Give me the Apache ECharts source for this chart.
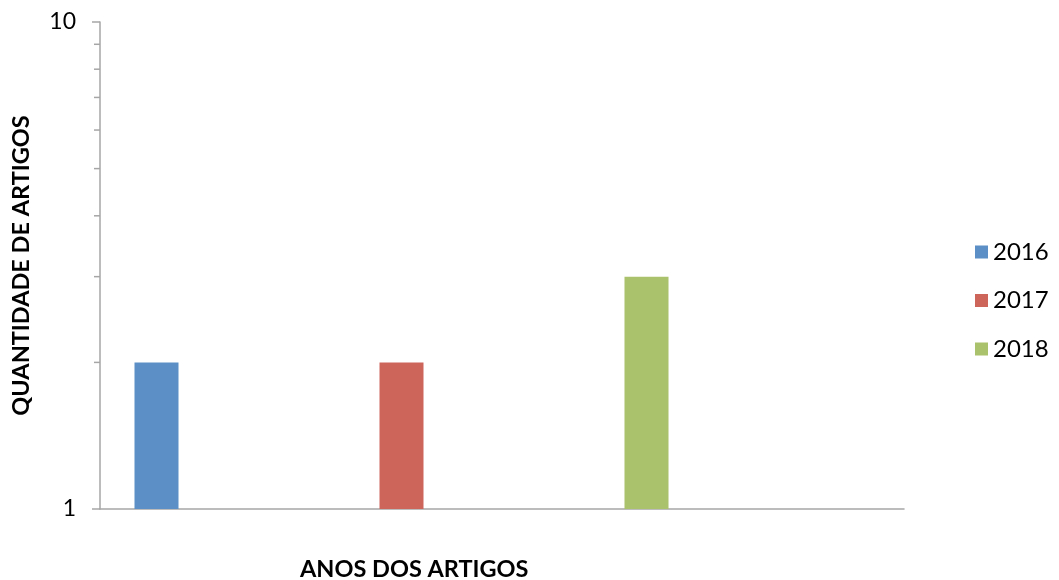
<!DOCTYPE html>
<html>
<head>
<meta charset="utf-8">
<script src="https://cdn.jsdelivr.net/npm/echarts@6/dist/echarts.min.js"></script>
<style>
  html, body { margin: 0; padding: 0; background: #ffffff; }
  #chart { width: 1059px; height: 580px; }
</style>
</head>
<body>
<div id="chart"></div>
<script>
// Category slots along the x axis (the fourth slot is left empty)
const categories = ['2016', '2017', '2018', ''];
// One series per year, each holding its article count
const years = ['2016', '2017', '2018'];
const counts = [2, 2, 3];
const colors = ['#5b8fc6', '#cd655b', '#aac26b'];
// Minor tick values on the logarithmic y axis
const minorTicks = [2, 3, 4, 5, 6, 7, 8, 9];

const FONT = 'Lato';

const barSeries = years.map((year, i) => ({
  name: year,
  type: 'bar',
  barWidth: 44,
  barGap: '0%',
  itemStyle: { color: colors[i] },
  data: categories.map((c, j) => (j === i ? counts[i] : null))
}));

const minorTickSeries = {
  type: 'custom',
  silent: true,
  clip: false,
  z: 5,
  data: minorTicks.map(v => [0, v]),
  renderItem: function (params, api) {
    const y = api.coord([0, api.value(1)])[1];
    const x0 = params.coordSys.x;
    return {
      type: 'line',
      shape: { x1: x0 - 6, y1: y, x2: x0, y2: y },
      style: { stroke: '#a6a6a6', lineWidth: 1.5 }
    };
  }
};

const chart = echarts.init(document.getElementById('chart'), null, { renderer: 'canvas' });
chart.setOption({
  animation: false,
  backgroundColor: '#ffffff',
  textStyle: { fontFamily: FONT },
  grid: { left: 100, right: 155, top: 22, bottom: 71 },
  title: {
    text: 'ANOS DOS ARTIGOS',
    left: 295,
    top: 552,
    textStyle: { fontFamily: FONT, fontWeight: 'bold', fontSize: 23.5, color: '#000000' }
  },
  legend: {
    orient: 'vertical',
    left: 970,
    top: 235,
    itemWidth: 13,
    itemHeight: 13,
    itemGap: 24.5,
    icon: 'rect',
    data: years,
    textStyle: { fontFamily: FONT, fontSize: 24, color: '#000000', lineHeight: 20 }
  },
  xAxis: {
    type: 'category',
    data: categories,
    axisLine: { lineStyle: { color: '#a6a6a6', width: 1.5 } },
    axisTick: { show: false },
    axisLabel: { show: false },
    splitLine: { show: false }
  },
  yAxis: {
    type: 'log',
    logBase: 10,
    min: 1,
    max: 10,
    name: 'QUANTIDADE DE ARTIGOS',
    nameLocation: 'middle',
    nameGap: 67,
    nameRotate: 90,
    nameTextStyle: { fontFamily: FONT, fontWeight: 'bold', fontSize: 23.5, color: '#000000' },
    axisLine: { show: true, lineStyle: { color: '#a6a6a6', width: 1.5 } },
    axisTick: { show: true, length: 8, lineStyle: { color: '#a6a6a6', width: 1.5 } },
    axisLabel: { fontFamily: FONT, fontSize: 23, color: '#000000', margin: 24 },
    splitLine: { show: false },
    minorTick: { show: false }
  },
  series: barSeries.concat([minorTickSeries])
});
</script>
</body>
</html>
